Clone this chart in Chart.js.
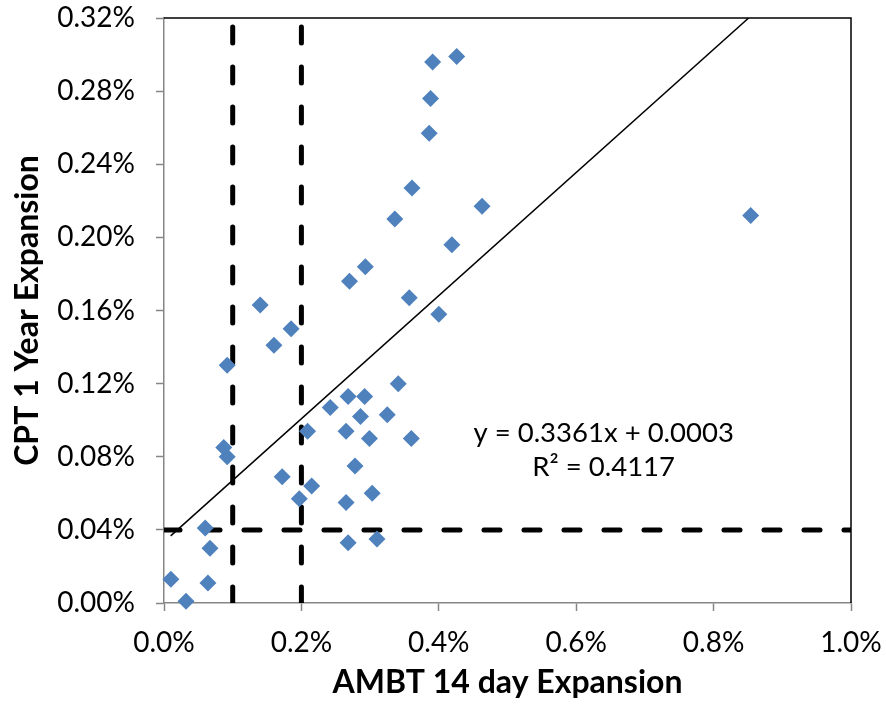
<!DOCTYPE html>
<html>
<head>
<meta charset="utf-8">
<script src="https://cdn.jsdelivr.net/npm/chart.js@4.4.1/dist/chart.umd.min.js"></script>
<style>
  body { margin: 0; background: #fff; }
  #wrap { width: 886px; height: 713px; }
</style>
</head>
<body>
<div id="wrap"><canvas id="scatterChart" width="886" height="713"></canvas></div>
<script>
// AMBT 14 day expansion (%) - x values
const ambtExpansion = [0.010, 0.032, 0.060, 0.067, 0.064, 0.087, 0.092, 0.092, 0.140, 0.160,
  0.185, 0.172, 0.197, 0.209, 0.215, 0.242, 0.265, 0.265, 0.268, 0.268,
  0.270, 0.278, 0.286, 0.292, 0.293, 0.299, 0.303, 0.310, 0.325, 0.336,
  0.341, 0.357, 0.360, 0.361, 0.386, 0.388, 0.391, 0.400, 0.419, 0.426,
  0.463, 0.854];
// CPT 1 year expansion (%) - y values
const cptExpansion = [0.013, 0.001, 0.041, 0.030, 0.011, 0.085, 0.080, 0.130, 0.163, 0.141,
  0.150, 0.069, 0.057, 0.094, 0.064, 0.107, 0.055, 0.094, 0.113, 0.033,
  0.176, 0.075, 0.102, 0.113, 0.184, 0.090, 0.060, 0.035, 0.103, 0.210,
  0.120, 0.167, 0.090, 0.227, 0.257, 0.276, 0.296, 0.158, 0.196, 0.299,
  0.217, 0.212];

// trendline ends (clipped at the top of the plot)
const trendX = [0.0097, 0.851];
const trendY = [0.0367, 0.32];

// limit lines
const xLimits = [0.1, 0.2];
const yLimit = 0.04;

const xTicks = [0, 1, 0.2];      // min, max, step
const yTicks = [0, 0.32, 0.04];

const equationText = ['y = 0.3361x + 0.0003', 'R\u00B2 = 0.4117'];

const FONT = 'Lato, "Open Sans", sans-serif';

const points = ambtExpansion.map((x, i) => ({ x: x, y: cptExpansion[i] }));

const dashStyle = {
  borderColor: '#000',
  borderWidth: 5,
  borderDash: [16, 24],
  borderCapStyle: 'round',
  pointRadius: 0,
  showLine: true,
  fill: false,
  order: 3
};

const limitSets = xLimits.map(v => Object.assign({
  label: 'limit ' + v,
  data: [{ x: v, y: yTicks[0] }, { x: v, y: yTicks[1] }]
}, dashStyle));
limitSets.push(Object.assign({
  label: 'limit y',
  data: [{ x: xTicks[0], y: yLimit }, { x: xTicks[1], y: yLimit }]
}, dashStyle));

// cadre noir autour de la zone du graphique
const frame = {
  id: 'frame',
  beforeDatasetsDraw(chart) {
    const { ctx, chartArea: a } = chart;
    ctx.save();
    ctx.strokeStyle = '#000';
    ctx.lineWidth = 1.5;
    ctx.beginPath();
    ctx.moveTo(a.left, a.top);
    ctx.lineTo(a.right, a.top);
    ctx.lineTo(a.right, a.bottom);
    ctx.stroke();
    ctx.restore();
  }
};

// equation de la droite de tendance
const equation = {
  id: 'equation',
  afterDraw(chart) {
    const { ctx, scales } = chart;
    const cx = scales.x.getPixelForValue(0.64);
    ctx.save();
    ctx.fillStyle = '#000';
    ctx.font = '27.5px ' + FONT;
    ctx.textAlign = 'center';
    ctx.textBaseline = 'middle';
    ctx.fillText(equationText[0], cx, scales.y.getPixelForValue(0.093));
    ctx.fillText(equationText[1], cx, scales.y.getPixelForValue(0.0745));
    ctx.restore();
  }
};

const ctx = document.getElementById('scatterChart').getContext('2d');
new Chart(ctx, {
  type: 'scatter',
  data: {
    datasets: [
      {
        label: 'CPT vs AMBT',
        data: points,
        pointStyle: 'rectRot',
        pointRadius: 8.5,
        pointBackgroundColor: '#4F81BD',
        pointBorderColor: '#4F81BD',
        pointBorderWidth: 0,
        clip: false,
        order: 1
      },
      {
        label: 'Trend',
        data: trendX.map((x, i) => ({ x: x, y: trendY[i] })),
        showLine: true,
        borderColor: '#000',
        borderWidth: 1.5,
        pointRadius: 0,
        order: 2
      },
      ...limitSets
    ]
  },
  options: {
    responsive: false,
    animation: false,
    layout: { padding: { top: 18, right: 35, left: 0, bottom: 0 } },
    plugins: {
      legend: { display: false },
      tooltip: { enabled: false }
    },
    scales: {
      x: {
        type: 'linear',
        min: xTicks[0],
        max: xTicks[1],
        afterFit: s => { s.height = 110; s.paddingLeft = 0; s.paddingRight = 0; },
        border: { color: '#868686', width: 1.5 },
        grid: { drawOnChartArea: false, drawTicks: true, tickLength: 8, tickColor: '#868686', tickWidth: 1.5 },
        ticks: {
          stepSize: xTicks[2],
          color: '#000',
          padding: 15,
          font: { family: FONT, size: 28 },
          callback: v => v.toFixed(1) + '%'
        },
        title: {
          display: true,
          text: 'AMBT 14 day Expansion',
          color: '#000',
          font: { family: FONT, size: 32, weight: 'bold' },
          padding: { top: 0, bottom: 11 }
        }
      },
      y: {
        type: 'linear',
        min: yTicks[0],
        max: yTicks[1],
        afterFit: s => { s.width = 164; s.paddingTop = 0; s.paddingBottom = 0; },
        border: { color: '#868686', width: 1.5 },
        grid: { drawOnChartArea: false, drawTicks: true, tickLength: 8, tickColor: '#868686', tickWidth: 1.5 },
        ticks: {
          stepSize: yTicks[2],
          color: '#000',
          padding: 21,
          font: { family: FONT, size: 28 },
          callback: v => v.toFixed(2) + '%'
        },
        title: {
          display: true,
          text: 'CPT 1 Year Expansion',
          color: '#000',
          font: { family: FONT, size: 32, weight: 'bold' },
          padding: { top: 8, bottom: 0 }
        }
      }
    }
  },
  plugins: [frame, equation]
});
</script>
</body>
</html>
